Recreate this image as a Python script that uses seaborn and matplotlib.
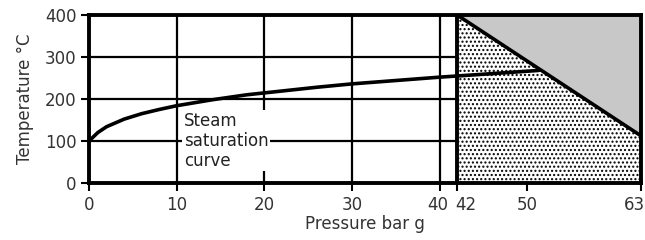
import numpy as np
import pandas as pd
import matplotlib
matplotlib.use("Agg")
import matplotlib.pyplot as plt
import matplotlib.transforms as mtransforms
import seaborn as sns

# steam saturation curve (pressure bar g, temperature degC)
pressure = [0, 1, 2, 4, 6, 8, 10, 14, 18, 22, 26, 30, 35, 40, 45, 51.3]
temperature = [100, 120, 134, 152, 165, 175, 184, 198, 210, 219, 228, 236, 244, 252, 259, 268]

# boundary of the shaded region
limit_p = [42, 63]
limit_t = [400, 112]

x_ticks = [0, 10, 20, 30, 40, 42, 50, 63]
y_ticks = [0, 100, 200, 300, 400]
label_text = "Steam\nsaturation\ncurve"

sns.set_style("white")
plt.rcParams['font.family'] = ['DejaVu Sans']

fig = plt.figure(figsize=(6.45, 2.4), dpi=100)
ax = fig.add_axes([0.138, 0.2375, 0.856, 0.7])

df = pd.DataFrame({'p': pressure, 't': temperature})

# grid lines
for gx in [10, 20, 30, 40]:
    ax.axvline(gx, color='black', lw=1.6, zorder=1)
for gy in [100, 200, 300]:
    ax.axhline(gy, color='black', lw=1.6, zorder=1)

# regions
ax.fill_between(limit_p, limit_t, 400, color='#c8c8c8', lw=0, zorder=2)
ax.fill_between(limit_p, 0, limit_t, facecolor='white', edgecolor='black',
                hatch='....', lw=0, zorder=2)
ax.plot(limit_p, limit_t, color='black', lw=2.6, zorder=3)
ax.plot([42, 42], [0, 400], color='black', lw=2.8, zorder=3)

sns.lineplot(data=df, x='p', y='t', color='black', lw=2.6, ax=ax, zorder=4)

ax.text(10.8, 170, label_text, fontsize=12, color='#222222', va='top', ha='left',
        linespacing=1.15, zorder=5,
        bbox=dict(facecolor='white', edgecolor='none', pad=1))

ax.set_xlim(0, 63)
ax.set_ylim(0, 400)
ax.set_xticks(x_ticks)
ax.set_yticks(y_ticks)
ax.tick_params(axis='both', direction='out', length=6, width=1.5, color='black',
               labelsize=12, labelcolor='#333333', bottom=True, left=True, pad=3)

# crowded labels near the right end
xlabels = ax.get_xticklabels()
xlabels[5].set_ha('left')
xlabels[5].set_transform(xlabels[5].get_transform() +
                         mtransforms.ScaledTranslation(-2 / 100, 0, fig.dpi_scale_trans))
xlabels[4].set_transform(xlabels[4].get_transform() +
                         mtransforms.ScaledTranslation(-2 / 100, 0, fig.dpi_scale_trans))
xlabels[-1].set_ha('right')
xlabels[-1].set_transform(xlabels[-1].get_transform() +
                          mtransforms.ScaledTranslation(4 / 100, 0, fig.dpi_scale_trans))

for s in ax.spines.values():
    s.set_linewidth(2.8)
    s.set_color('black')
    s.set_zorder(6)

ax.set_xlabel("Pressure bar g", fontsize=12, color='#333333', labelpad=1)
ax.set_ylabel("Temperature °C", fontsize=12, color='#333333', labelpad=8)

fig.savefig('out.png', dpi=100)
